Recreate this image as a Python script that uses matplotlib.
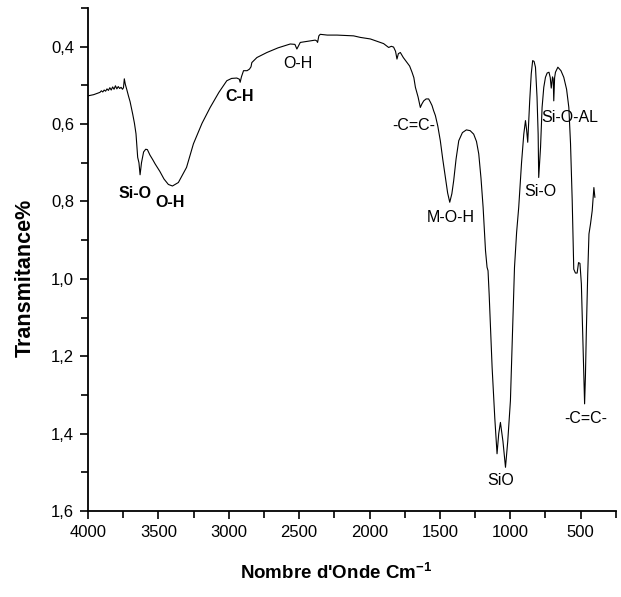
import matplotlib
matplotlib.use('Agg')
import matplotlib.pyplot as plt
from matplotlib.ticker import MultipleLocator, FuncFormatter

plt.rcParams['font.family'] = ['Liberation Sans', 'DejaVu Sans']
plt.rcParams['mathtext.default'] = 'regular'

# spectre IR (nombre d'onde en cm-1, transmittance)
wavenumber = [4000, 3960, 3930, 3915, 3905, 3895, 3885, 3875, 3865, 3855, 3845, 3835, 3825, 3815,
              3805, 3795, 3785, 3775, 3765, 3755, 3748, 3742, 3735, 3725, 3712, 3701, 3690, 3682,
              3670, 3659, 3647, 3638, 3630, 3620, 3605, 3590, 3578, 3560, 3540, 3523, 3490, 3460,
              3429, 3400, 3358, 3300, 3251, 3190, 3132, 3070, 3014, 2980, 2943, 2925, 2919, 2910,
              2895, 2870, 2853, 2842, 2836, 2800, 2729, 2650, 2563, 2530, 2516, 2500, 2492, 2440,
              2386, 2375, 2369, 2360, 2350, 2300, 2231, 2113, 2065, 1994, 1947, 1900, 1864, 1845,
              1829, 1815, 1805, 1795, 1781, 1760, 1733, 1715, 1698, 1685, 1674, 1655, 1639, 1628,
              1615, 1598, 1580, 1568, 1556, 1545, 1532, 1515, 1497, 1480, 1461, 1445, 1430, 1415,
              1402, 1385, 1366, 1340, 1312, 1285, 1260, 1240, 1224, 1208, 1193, 1176, 1165, 1158,
              1150, 1129, 1110, 1094, 1082, 1070, 1052, 1034, 1018, 999, 985, 970, 955, 940, 920,
              904, 892, 884, 876, 870, 862, 851, 841, 831, 821, 810, 802, 798, 792, 785, 774, 762,
              750, 738, 725, 716, 709, 700, 695, 691, 685, 679, 662, 640, 620, 600, 584, 572, 560,
              549, 537, 525, 515, 505, 495, 482, 472, 466, 460, 450, 441, 430, 418, 406, 399]
transmittance = [0.527, 0.524, 0.520, 0.518, 0.514, 0.517, 0.512, 0.515, 0.509, 0.513, 0.506, 0.512,
                 0.504, 0.510, 0.501, 0.509, 0.503, 0.508, 0.505, 0.510, 0.506, 0.483, 0.497, 0.510,
                 0.528, 0.542, 0.561, 0.575, 0.598, 0.625, 0.686, 0.700, 0.731, 0.700, 0.672, 0.665,
                 0.666, 0.680, 0.692, 0.703, 0.722, 0.742, 0.756, 0.760, 0.751, 0.712, 0.651, 0.598,
                 0.557, 0.518, 0.488, 0.482, 0.481, 0.484, 0.492, 0.478, 0.462, 0.462, 0.458, 0.452,
                 0.441, 0.428, 0.415, 0.403, 0.393, 0.394, 0.406, 0.395, 0.389, 0.386, 0.383, 0.385,
                 0.389, 0.372, 0.368, 0.370, 0.370, 0.372, 0.376, 0.380, 0.386, 0.392, 0.402, 0.399,
                 0.401, 0.412, 0.432, 0.418, 0.415, 0.428, 0.441, 0.450, 0.466, 0.480, 0.505, 0.530,
                 0.557, 0.548, 0.540, 0.535, 0.535, 0.543, 0.552, 0.565, 0.578, 0.605, 0.643, 0.690,
                 0.738, 0.778, 0.802, 0.780, 0.746, 0.690, 0.643, 0.622, 0.615, 0.617, 0.626, 0.645,
                 0.677, 0.740, 0.815, 0.927, 0.970, 0.979, 1.040, 1.229, 1.360, 1.452, 1.400, 1.371,
                 1.420, 1.487, 1.420, 1.315, 1.150, 0.970, 0.880, 0.815, 0.700, 0.626, 0.591, 0.615,
                 0.647, 0.600, 0.540, 0.470, 0.436, 0.438, 0.453, 0.530, 0.626, 0.738, 0.700, 0.660,
                 0.557, 0.505, 0.479, 0.468, 0.466, 0.480, 0.507, 0.478, 0.483, 0.540, 0.480, 0.466,
                 0.453, 0.462, 0.479, 0.510, 0.557, 0.650, 0.798, 0.975, 0.985, 0.985, 0.958, 0.960,
                 1.013, 1.186, 1.323, 1.250, 1.142, 0.990, 0.884, 0.858, 0.824, 0.764, 0.789]

# attributions des bandes (texte, x, y, gras)
band_labels = ['Si-O', 'O-H', 'C-H', 'O-H', '-C=C-', 'M-O-H', 'Si-O', 'Si-O-AL', 'SiO', '-C=C-']
band_x = [3666, 3417, 2926, 2506, 1686, 1425, 790, 579, 1065, 465]
band_y = [0.780, 0.802, 0.528, 0.443, 0.604, 0.841, 0.774, 0.583, 1.520, 1.362]
band_bold = [True, True, True, False, False, False, False, False, False, False]

fig = plt.figure(figsize=(6.21, 5.97), dpi=100)
ax = fig.add_axes([0.1417, 0.144, 0.850, 0.8426])

ax.plot(wavenumber, transmittance, color='black', linewidth=0.8)

for lab, x, y, b in zip(band_labels, band_x, band_y, band_bold):
    ax.text(x, y, lab, ha='center', va='center', fontsize=11.5,
            fontweight='bold' if b else 'normal')

ax.set_xlim(4000, 250)
ax.set_ylim(1.6, 0.3)
ax.xaxis.set_major_locator(MultipleLocator(500))
ax.xaxis.set_minor_locator(MultipleLocator(250))
ax.yaxis.set_major_locator(MultipleLocator(0.2))
ax.yaxis.set_minor_locator(MultipleLocator(0.1))
ax.yaxis.set_major_formatter(FuncFormatter(lambda v, p: ('%.1f' % v).replace('.', ',')))

for s in ['top', 'right']:
    ax.spines[s].set_visible(False)
for s in ['left', 'bottom']:
    ax.spines[s].set_linewidth(1.3)
ax.tick_params(which='major', direction='out', length=6, width=1.2, labelsize=12, pad=4)
ax.tick_params(which='minor', direction='out', length=5, width=1.2)

ax.set_xlabel("Nombre d'Onde Cm$^{-1}$", fontsize=13.5, fontweight='bold')
ax.set_ylabel('Transmitance%', fontsize=15.5, fontweight='bold')
ax.xaxis.set_label_coords(0.47, -0.123)
ax.yaxis.set_label_coords(-0.119, 0.463)
ax.xaxis.label.set_va('center')
ax.yaxis.label.set_va('center')

fig.savefig('out.png', dpi=100)
